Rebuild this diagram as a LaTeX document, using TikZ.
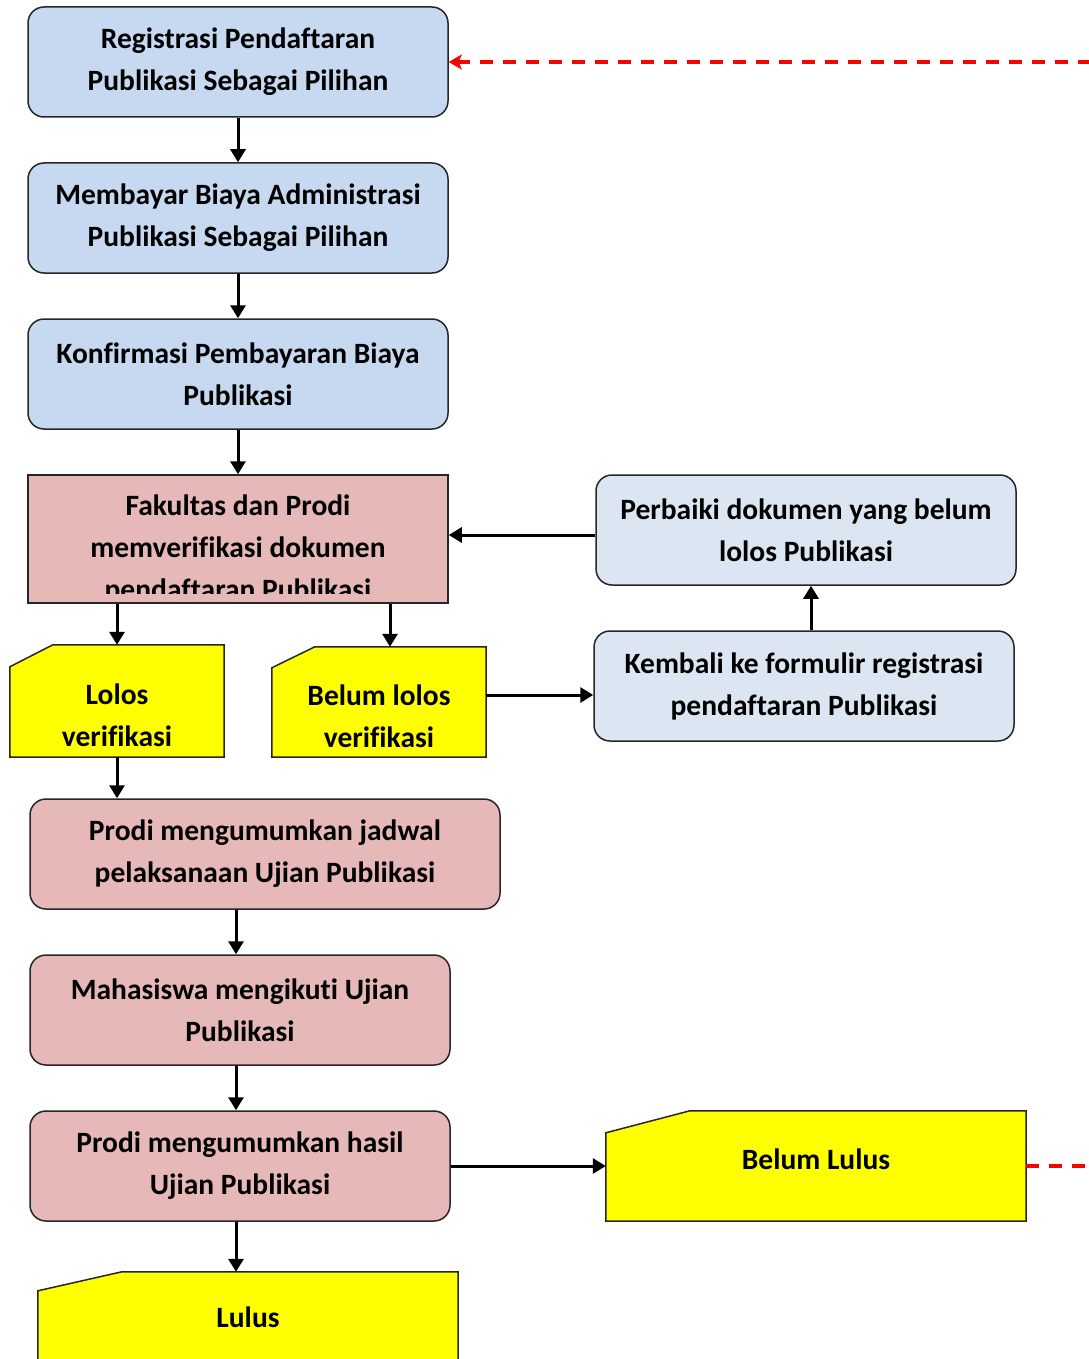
\documentclass[tikz,border=0pt]{standalone}
\usepackage{fontspec}
\setmainfont{Carlito}[Ligatures=NoCommon]
\usetikzlibrary{arrows.meta, positioning, calc, backgrounds}
\definecolor{stepblue}{HTML}{C6D9F1}
\definecolor{paleblue}{HTML}{DCE6F2}
\definecolor{steppink}{HTML}{E6B9B8}
\definecolor{docyellow}{HTML}{FFFF00}

% card outline (cut top-left corner) behind a named node
\newcommand{\carddoc}[3]{%
  \begin{scope}[on background layer]
    \draw[cardline] (#1.south west) -- ($(#1.north west)+(0,#3)$) -- ($(#1.north west)+(#2,0)$) -- (#1.north east) -- (#1.south east) -- cycle;
  \end{scope}}

\begin{document}
\begin{tikzpicture}[x=1pt, y=-1pt,
    txt/.style={align=center, font=\fontsize{29.5}{42}\selectfont\bfseries},
    stepbox/.style={txt, draw=black!85, line width=1.5pt, rounded corners=16pt, minimum width=420pt, minimum height=110pt},
    card/.style={minimum width=#1, minimum height=110pt},
    cardline/.style={draw=black!85, line width=1.5pt, fill=docyellow},
    arr/.style={line width=3pt, -{Triangle[length=13pt, width=15pt]}},
    back/.style={red, line width=3.5pt, dash pattern=on 13pt off 10pt, -{Stealth[length=13pt, width=15pt, inset=3pt]}}]
    \useasboundingbox (0,0) rectangle (1088,1359);

    % Registration steps
    \node[stepbox, fill=stepblue] (reg) at (238,62) {Registrasi Pendaftaran\\Publikasi Sebagai Pilihan};
    \node[stepbox, fill=stepblue] (bayar) at (238,218) {Membayar Biaya Administrasi\\Publikasi Sebagai Pilihan};
    \node[stepbox, fill=stepblue] (konf) at (238,374) {Konfirmasi Pembayaran Biaya\\Publikasi};

    % Verification (text cut off by the box)
    \node[stepbox, fill=steppink, rounded corners=0pt, minimum height=128pt] (verif) at (238,539) {};
    \begin{scope}
        \clip (30,477) rectangle (446,593);
        \node[txt] (veriftxt) at (238,549) {Fakultas dan Prodi\\memverifikasi dokumen\\pendaftaran Publikasi};
    \end{scope}

    % Correction loop
    \node[stepbox, fill=paleblue] (perbaiki) at (806,530) {Perbaiki dokumen yang belum\\lolos Publikasi};
    \node[stepbox, fill=paleblue] (kembali) at (804,686) {Kembali ke formulir registrasi\\pendaftaran Publikasi};

    % Verification results
    \node[card=214pt, minimum height=112pt] (lolos) at (117,701) {};
    \node[card=214pt] (belum) at (379,702) {};
    \carddoc{lolos}{43}{22}
    \carddoc{belum}{43}{21}
    \node[txt] (lolostxt) at ([yshift=-14pt]lolos.center) {Lolos\\verifikasi};
    \node[txt] (belumtxt) at ([yshift=-14pt]belum.center) {Belum lolos\\verifikasi};

    % Exam steps
    \node[stepbox, fill=steppink, minimum width=470pt] (jadwal) at (265,854) {Prodi mengumumkan jadwal\\pelaksanaan Ujian Publikasi};
    \node[stepbox, fill=steppink] (ujian) at (240,1010) {Mahasiswa mengikuti Ujian\\Publikasi};
    \node[stepbox, fill=steppink] (hasil) at (240,1166) {Prodi mengumumkan hasil\\Ujian Publikasi};

    % Exam results
    \node[card=420pt] (blulus) at (816,1166) {};
    \node[card=420pt] (lulus) at (248,1327) {};
    \carddoc{blulus}{84}{22}
    \carddoc{lulus}{84}{19}
    \node[txt] (blulustxt) at ([yshift=7pt]blulus.center) {Belum Lulus};
    \node[txt] (lulustxt) at ([yshift=10pt]lulus.center) {Lulus};

    % Arrows
    \draw[arr] (reg) -- (bayar);
    \draw[arr] (bayar) -- (konf);
    \draw[arr] (konf) -- (verif);
    \draw[arr] (lolos.north |- verif.south) -- (lolos.north);
    \draw[arr] ([xshift=11pt]belum.north |- verif.south) -- ([xshift=11pt]belum.north);
    \draw[arr] ([yshift=7pt]belum.east) -- ([yshift=7pt]belum.east -| kembali.west);
    \draw[arr] (kembali.north -| 811,0) -- (perbaiki.south -| 811,0);
    \draw[arr] ([yshift=-5pt]perbaiki.west) -- ([yshift=-5pt]perbaiki.west -| verif.east);
    \draw[arr] (lolos.south) -- (lolos.south |- jadwal.north);
    \draw[arr] (jadwal.south -| 236,0) -- (ujian.north -| 236,0);
    \draw[arr] (ujian.south -| 236,0) -- (hasil.north -| 236,0);
    \draw[arr] (hasil) -- (blulus);
    \draw[arr] (hasil.south -| 236,0) -- (lulus.north -| 236,0);

    % Back to registration
    \draw[back] (blulus.east) -- ++(90,0) |- (reg.east);
\end{tikzpicture}
\end{document}
